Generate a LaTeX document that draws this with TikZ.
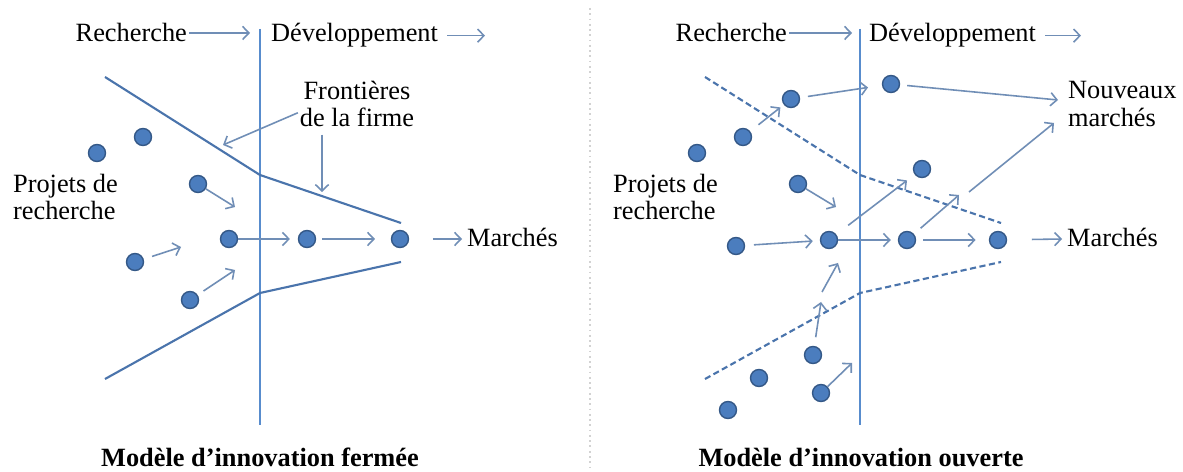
\documentclass[tikz,border=0pt]{standalone}
\usepackage{fontspec}
\setmainfont{Liberation Serif}
\usetikzlibrary{positioning, arrows.meta, calc}
\definecolor{lineblue}{RGB}{74,116,172}
\definecolor{axisblue}{RGB}{88,140,205}
\definecolor{arrowblue}{RGB}{112,142,182}
\definecolor{dotfill}{RGB}{75,125,190}
\definecolor{dotedge}{RGB}{52,88,135}

\begin{document}
\begin{tikzpicture}[
    x=0.02cm, y=-0.02cm,
    >={Straight Barb[length=3.6pt,width=7.5pt]},
    font=\fontsize{15pt}{15.9pt}\selectfont,
    proj/.style={
        circle, fill=dotfill, draw=dotedge, line width=0.8pt,
        minimum size=0.34cm, inner sep=0pt
    },
    lbl/.style={inner sep=1pt, align=left},
    title/.style={inner sep=1pt, font=\fontsize{15pt}{16pt}\selectfont\bfseries},
    axis/.style={axisblue, line width=1pt},
    bound/.style={lineblue, line width=1.2pt},
    dbound/.style={bound, dash pattern=on 3.5pt off 2pt},
    arr/.style={arrowblue, line width=0.9pt, ->},
]

% Page and divider
\path[use as bounding box, fill=white] (0,0) rectangle (1183,472);
\draw[gray!35, line width=1pt, dotted] (590,8) -- (590,472);

% ---------------- Closed model ----------------
\coordinate (l_top) at (260,29);
\coordinate (l_bot) at (260,425);
\draw[axis] (l_top) -- (l_bot);

\node[lbl, anchor=base east] (rech_l) at (189,42) {Recherche};
\node[lbl, anchor=base west] (dev_l) at (269,42) {Développement};
\coordinate (rech_l_end) at (250,0);
\coordinate (dev_l_end) at (485,0);
\draw[arr] (rech_l.east) -- (rech_l.east -| rech_l_end);
\draw[arr, shorten <=4pt] (dev_l.east) -- (dev_l.east -| dev_l_end);

% Firm boundaries
\coordinate (lb_a) at (105,77);
\coordinate (lb_b) at (260,175);
\coordinate (lb_c) at (401,223);
\coordinate (lb_d) at (105,379);
\coordinate (lb_e) at (260,293);
\coordinate (lb_f) at (401,262);
\draw[bound] (lb_a) -- (lb_b) -- (lb_c);
\draw[bound] (lb_d) -- (lb_e) -- (lb_f);

\node[lbl, align=center] (front) at (357,104) {Frontières\\de la firme};
\coordinate (front_a) at (223,145);
\coordinate (front_b) at (322,192);
\draw[arr] ([yshift=-5pt]front.west) -- (front_a);
\draw[arr, shorten <=3pt] (front.south -| front_b) -- (front_b);

\node[lbl, anchor=west] (proj_l) at (11,197) {Projets de\\recherche};

% Projects
\node[proj] (lp1) at (97,153) {};
\node[proj] (lp2) at (143,137) {};
\node[proj] (lp3) at (198,184) {};
\node[proj] (lp4) at (135,262) {};
\node[proj] (lp5) at (190,300) {};
\node[proj] (la) at (229,239) {};
\node[proj] (lb) at (307,239) {};
\node[proj] (lc) at (400,239) {};

\coordinate (lp3_to) at (235,207);
\coordinate (lp4_to) at (181,247);
\coordinate (lp5_to) at (235,270);
\coordinate (lmk) at (462,239);
\draw[arr] (lp3) -- (lp3_to);
\draw[arr, shorten <=5pt] (lp4) -- (lp4_to);
\draw[arr, shorten <=4pt] (lp5) -- (lp5_to);
\draw[arr, shorten >=4.5pt] (la) -- (lb);
\draw[arr, shorten <=3.5pt, shorten >=9pt] (lb) -- (lc);
\draw[arr, shorten <=13.5pt] (lc) -- (lmk);

\node[lbl, anchor=base west] (mk_l) at (465,247) {Marchés};

\node[title, anchor=base] (title_l) at (260,467) {Modèle d’innovation fermée};

% ---------------- Open model ----------------
\coordinate (r_top) at (860,29);
\coordinate (r_bot) at (860,425);
\draw[axis] (r_top) -- (r_bot);

\node[lbl, anchor=base east] (rech_r) at (789,42) {Recherche};
\node[lbl, anchor=base west] (dev_r) at (867,42) {Développement};
\coordinate (rech_r_end) at (852,0);
\coordinate (dev_r_end) at (1081,0);
\draw[arr] (rech_r.east) -- (rech_r.east -| rech_r_end);
\draw[arr, shorten <=4pt] (dev_r.east) -- (dev_r.east -| dev_r_end);

% Porous boundaries
\coordinate (rb_a) at (705,77);
\coordinate (rb_b) at (860,175);
\coordinate (rb_c) at (1001,223);
\coordinate (rb_d) at (705,379);
\coordinate (rb_e) at (860,293);
\coordinate (rb_f) at (1001,262);
\draw[dbound] (rb_a) -- (rb_b) -- (rb_c);
\draw[dbound] (rb_d) -- (rb_e) -- (rb_f);

\node[lbl, anchor=west] (proj_r) at (611,197) {Projets de\\recherche};
\node[lbl, anchor=west] (nmk) at (1066,104) {Nouveaux\\marchés};

% Projects
\node[proj] (rp1) at (697,153) {};
\node[proj] (rp2) at (743,137) {};
\node[proj] (rp3) at (791,99) {};
\node[proj] (rn1) at (891,84) {};
\node[proj] (rp4) at (798,184) {};
\node[proj] (rn2) at (922,169) {};
\node[proj] (rp5) at (736,246) {};
\node[proj] (ra) at (829,240) {};
\node[proj] (rb) at (907,240) {};
\node[proj] (rc) at (998,240) {};
\node[proj] (rq1) at (813,355) {};
\node[proj] (rq2) at (759,378) {};
\node[proj] (rq3) at (821,393) {};
\node[proj] (rq4) at (728,410) {};

\coordinate (rn1_to) at (1058,100);
\coordinate (rp4_to) at (836,207);
\coordinate (rb_to) at (959,195);
\coordinate (nmk_from) at (969,192);
\coordinate (nmk_to) at (1054,123);
\coordinate (rq1_to) at (821,302);
\coordinate (rv_from) at (822,292);
\coordinate (rv_to) at (838,263);
\coordinate (rq3_to) at (852,363);
\coordinate (rmk) at (1062,239);

\draw[arr, shorten <=6pt, shorten >=2.5pt] (rp2) -- (rp3);
\draw[arr, shorten <=4.5pt, shorten >=8pt] (rp3) -- (rn1);
\draw[arr, shorten <=4pt] (rn1) -- (rn1_to);
\draw[arr] (rp4) -- (rp4_to);
\draw[arr, shorten <=8.5pt, shorten >=5.5pt] (ra) -- (rn2);
\draw[arr, shorten <=5pt] (rb) -- (rb_to);
\draw[arr] (nmk_from) -- (nmk_to);
\draw[arr, shorten <=5pt, shorten >=4pt] (rp5) -- (ra);
\draw[arr, shorten >=4pt] (ra) -- (rb);
\draw[arr, shorten <=4pt, shorten >=7.5pt] (rb) -- (rc);
\draw[arr, shorten <=14pt] (rc) -- (rmk);
\draw[arr, shorten <=5pt] (rq1) -- (rq1_to);
\draw[arr] (rv_from) -- (rv_to);
\draw[arr] (rq3) -- (rq3_to);

\node[lbl, anchor=base west] (mk_r) at (1065,247) {Marchés};

\node[title, anchor=base] (title_r) at (861,467) {Modèle d’innovation ouverte};

\end{tikzpicture}
\end{document}
